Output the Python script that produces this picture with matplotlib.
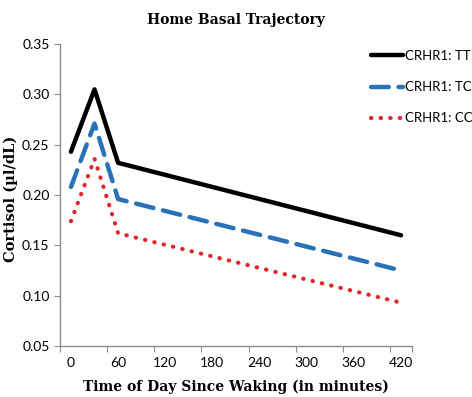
import matplotlib
matplotlib.use("Agg")
import matplotlib.pyplot as plt
import numpy as np

minutes = [0, 30, 60, 420]
tt = [0.243, 0.305, 0.232, 0.160]
tc = [0.208, 0.271, 0.196, 0.125]
cc = [0.174, 0.236, 0.162, 0.093]
labels = ["CRHR1: TT", "CRHR1: TC", "CRHR1: CC"]
xtick_labels = [0, 60, 120, 180, 240, 300, 360, 420]
yticks = [0.05, 0.10, 0.15, 0.20, 0.25, 0.30, 0.35]

fig = plt.figure(figsize=(4.72, 3.97), dpi=100)
ax = fig.add_axes([0.127, 0.1285, 0.746, 0.7605])

ax.plot(minutes, tt, color="black", lw=3.2, solid_capstyle="round", label=labels[0])
ax.plot(minutes, tc, color="#2a72b8", lw=3.2, linestyle=(0, (4.0, 2.2)),
        dash_capstyle="round", label=labels[1])
ax.plot(minutes, cc, color="#e0282a", lw=3.0, linestyle=(0, (0.1, 2.2)),
        dash_capstyle="round", label=labels[2])

ax.set_xlim(-14, 434)
ax.set_ylim(0.05, 0.35)
ax.set_yticks(yticks)
ax.set_yticklabels([f"{v:.2f}" for v in yticks], fontfamily="Lato", fontsize=10)

# tick marks offset from labels (category-style axis)
ax.set_xticks([t - 14 for t in xtick_labels] + [434 - 0.01])
ax.set_xticklabels([])
ax.set_xticks(xtick_labels, minor=True)
ax.set_xticklabels([str(v) for v in xtick_labels], minor=True, fontfamily="Lato", fontsize=10)
ax.tick_params(axis="x", which="minor", length=0, pad=8)
ax.tick_params(axis="x", which="major", length=4, color="#8c8c8c", direction="out")
ax.tick_params(axis="y", length=4, color="#8c8c8c", direction="out")

for s in ["top", "right"]:
    ax.spines[s].set_visible(False)
for s in ["left", "bottom"]:
    ax.spines[s].set_color("#8c8c8c")
    ax.spines[s].set_linewidth(1.0)

fig.text(0.5, 0.949, "Home Basal Trajectory", ha="center", va="center",
         fontfamily="DejaVu Serif", fontweight="bold", fontsize=10)
fig.text(0.5, 0.025, "Time of Day Since Waking (in minutes)", ha="center", va="center",
         fontfamily="DejaVu Serif", fontweight="bold", fontsize=10)
fig.text(0.022, 0.50, "Cortisol (µl/dL)", ha="center", va="center", rotation=90,
         fontfamily="DejaVu Serif", fontweight="bold", fontsize=10.5)

leg = fig.legend(loc="upper left", bbox_to_anchor=(0.786, 0.874), frameon=False,
                 prop={"family": "Lato", "size": 9.5}, handlelength=2.45,
                 handletextpad=0.1, labelspacing=1.45, borderpad=0, borderaxespad=0)

fig.savefig("out.png", dpi=100)
